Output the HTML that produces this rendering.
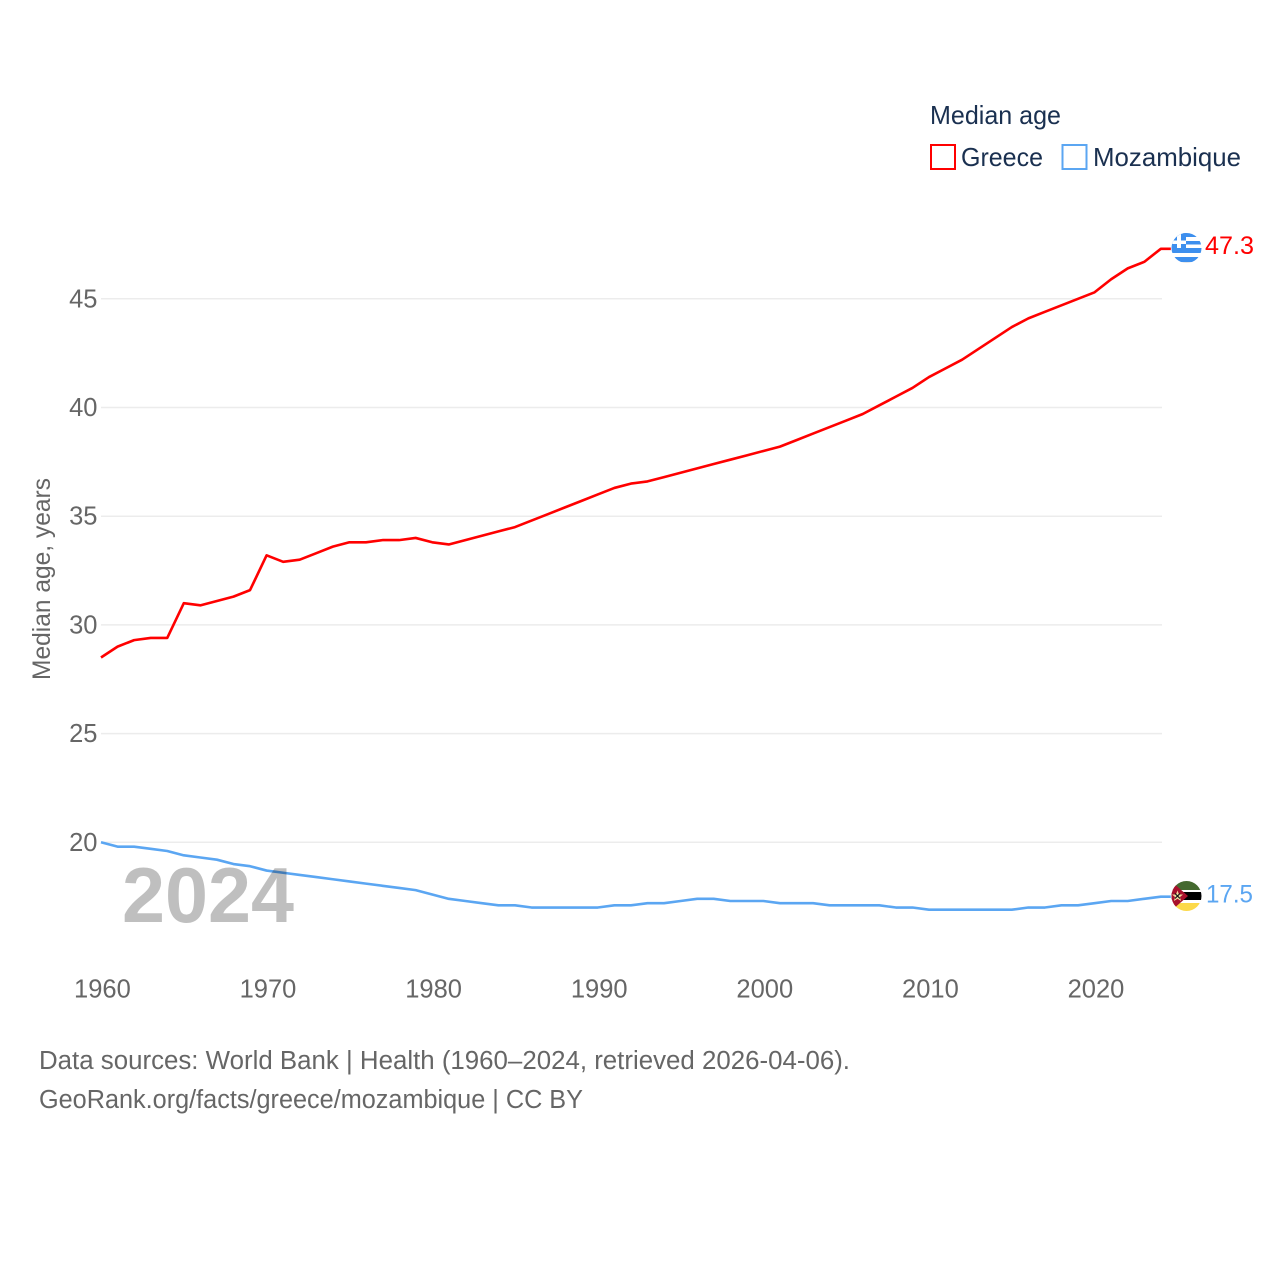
<!DOCTYPE html>
<html lang="en">
<head>
<meta charset="utf-8">
<title>Median age: Greece and Mozambique</title>
<style>
html,body{margin:0;padding:0;background:#fff;}
svg{display:block;font-family:"Liberation Sans",sans-serif;}
</style>
</head>
<body>
<svg id="chart" xmlns="http://www.w3.org/2000/svg" width="1280" height="1280" viewBox="0 0 1280 1280">
  <defs>
    <clipPath id="clip-greece"><circle cx="1186.5" cy="248" r="15"/></clipPath>
    <clipPath id="clip-moz"><circle cx="1186.5" cy="896" r="15"/></clipPath>
  </defs>
  <rect width="1280" height="1280" fill="#fff"/>
  <g id="grid"></g>
  <g id="yticks"></g>
  <g id="xticks"></g>
  <g id="series"></g>
  <text x="122" y="922" font-size="78" font-weight="700" fill="#000" fill-opacity="0.25" textLength="172" lengthAdjust="spacingAndGlyphs">2024</text>
  <text transform="translate(50 680) rotate(-90)" font-size="25" fill="#666" textLength="202" lengthAdjust="spacingAndGlyphs">Median age, years</text>

  <g fill="#1a3050" font-size="26">
    <text x="930" y="124" textLength="131" lengthAdjust="spacingAndGlyphs">Median age</text>
    <g>
      <rect x="931" y="145" width="24" height="24" fill="none" stroke="#ff0000" stroke-width="2"/>
      <text x="961" y="166" textLength="82" lengthAdjust="spacingAndGlyphs">Greece</text>
    </g>
    <g>
      <rect x="1062.5" y="145" width="24" height="24" fill="none" stroke="#5ba6f2" stroke-width="2"/>
      <text x="1093" y="166" textLength="148" lengthAdjust="spacingAndGlyphs">Mozambique</text>
    </g>
  </g>

  <g clip-path="url(#clip-greece)">
    <rect x="1170" y="232" width="33" height="32" fill="#fff"/>
    <rect x="1170" y="232" width="33" height="5" fill="#3d8fee"/>
    <rect x="1170" y="241" width="33" height="3.5" fill="#3d8fee"/>
    <rect x="1170" y="248" width="33" height="5" fill="#3d8fee"/>
    <rect x="1170" y="257" width="33" height="5" fill="#3d8fee"/>
    <rect x="1170" y="262" width="33" height="2" fill="#e4e4e4"/>
    <rect x="1170" y="232" width="16" height="16" fill="#3d8fee"/>
    <rect x="1177" y="232" width="4" height="16" fill="#fff"/>
    <rect x="1170" y="240.5" width="16" height="3.5" fill="#fff"/>
  </g>
  <g clip-path="url(#clip-moz)">
    <rect x="1170" y="880" width="33" height="10" fill="#44692f"/>
    <rect x="1170" y="890" width="33" height="2" fill="#fff"/>
    <rect x="1170" y="892" width="33" height="8" fill="#000"/>
    <rect x="1170" y="900" width="33" height="3" fill="#fff"/>
    <rect x="1170" y="903" width="33" height="9" fill="#fcd94a"/>
    <polygon points="1171,881 1188,896 1171,911" fill="#a8102c"/>
    <polygon points="1177.5,890.5 1179,894.5 1183,894.5 1180,897 1181,901 1177.5,898.8 1174,901 1175,897 1172,894.5 1176,894.5" fill="#f0dca0"/>
    <path d="M1175 893.5l5 5M1180 893.5l-5 5" stroke="#111" stroke-width="1.2"/>
  </g>

  <text x="1205" y="254" font-size="25" fill="#ff0000" textLength="49" lengthAdjust="spacingAndGlyphs">47.3</text>
  <text x="1206" y="902.5" font-size="25" fill="#5ba6f2" textLength="47" lengthAdjust="spacingAndGlyphs">17.5</text>

  <g font-size="25.5" fill="#666">
    <text x="39" y="1069" textLength="811" lengthAdjust="spacingAndGlyphs">Data sources: World Bank | Health (1960–2024, retrieved 2026-04-06).</text>
    <text x="39" y="1108" textLength="544" lengthAdjust="spacingAndGlyphs">GeoRank.org/facts/greece/mozambique | CC BY</text>
  </g>
</svg>
<script>
const startYear = 1960;
const yTickValues = [20, 25, 30, 35, 40, 45];
const xTickYears = [1960, 1970, 1980, 1990, 2000, 2010, 2020];
const greeceValues = [28.5,29.0,29.3,29.4,29.4,31.0,30.9,31.1,31.3,31.6,33.2,32.9,33.0,33.3,33.6,33.8,33.8,33.9,33.9,34.0,33.8,33.7,33.9,34.1,34.3,34.5,34.8,35.1,35.4,35.7,36.0,36.3,36.5,36.6,36.8,37.0,37.2,37.4,37.6,37.8,38.0,38.2,38.5,38.8,39.1,39.4,39.7,40.1,40.5,40.9,41.4,41.8,42.2,42.7,43.2,43.7,44.1,44.4,44.7,45.0,45.3,45.9,46.4,46.7,47.3];
const mozambiqueValues = [20.0,19.8,19.8,19.7,19.6,19.4,19.3,19.2,19.0,18.9,18.7,18.6,18.5,18.4,18.3,18.2,18.1,18.0,17.9,17.8,17.6,17.4,17.3,17.2,17.1,17.1,17.0,17.0,17.0,17.0,17.0,17.1,17.1,17.2,17.2,17.3,17.4,17.4,17.3,17.3,17.3,17.2,17.2,17.2,17.1,17.1,17.1,17.1,17.0,17.0,16.9,16.9,16.9,16.9,16.9,16.9,17.0,17.0,17.1,17.1,17.2,17.3,17.3,17.4,17.5];

const NS = 'http://www.w3.org/2000/svg';
function xScale(year) { return 101 + (year - 1960) * 16.56; }
function yScale(value) { return 842.3 - (value - 20) * 21.74; }

const gridGroup = document.getElementById('grid');
const yTickGroup = document.getElementById('yticks');
const xTickGroup = document.getElementById('xticks');
const seriesGroup = document.getElementById('series');

yTickValues.forEach(function (v) {
  const line = document.createElementNS(NS, 'line');
  
  
  line.setAttribute('x1', 101);
  line.setAttribute('x2', 1162);
  line.setAttribute('y1', yScale(v));
  line.setAttribute('y2', yScale(v));
  line.setAttribute('stroke', '#ececec');
  line.setAttribute('stroke-width', 1.5);
  gridGroup.appendChild(line);

  const label = document.createElementNS(NS, 'text');
  
  
  label.setAttribute('x', 97.5);
  label.setAttribute('y', yScale(v) + 8.5);
  label.setAttribute('text-anchor', 'end');
  label.setAttribute('font-size', 25.5);
  label.setAttribute('fill', '#666');
  label.textContent = String(v);
  yTickGroup.appendChild(label);
});

xTickYears.forEach(function (year) {
  const label = document.createElementNS(NS, 'text');
  
  
  label.setAttribute('x', xScale(year) + 1.4);
  label.setAttribute('y', 997.5);
  label.setAttribute('text-anchor', 'middle');
  label.setAttribute('font-size', 25.5);
  label.setAttribute('fill', '#666');
  label.textContent = String(year);
  xTickGroup.appendChild(label);
});

function linePoints(values) {
  const pts = values.map(function (v, i) {
    return xScale(startYear + i).toFixed(2) + ',' + yScale(v).toFixed(2);
  });
  const lastX = xScale(startYear + values.length - 1) + 10;
  pts.push(lastX.toFixed(2) + ',' + yScale(values[values.length - 1]).toFixed(2));
  return pts.join(' ');
}

const greeceLine = document.createElementNS(NS, 'polyline');


greeceLine.setAttribute('points', linePoints(greeceValues));
greeceLine.setAttribute('fill', 'none');
greeceLine.setAttribute('stroke', '#ff0000');
greeceLine.setAttribute('stroke-width', 2.6);
greeceLine.setAttribute('stroke-linejoin', 'round');
seriesGroup.appendChild(greeceLine);

const mozambiqueLine = document.createElementNS(NS, 'polyline');


mozambiqueLine.setAttribute('points', linePoints(mozambiqueValues));
mozambiqueLine.setAttribute('fill', 'none');
mozambiqueLine.setAttribute('stroke', '#5ba6f2');
mozambiqueLine.setAttribute('stroke-width', 2.6);
mozambiqueLine.setAttribute('stroke-linejoin', 'round');
seriesGroup.appendChild(mozambiqueLine);
</script>
</body>
</html>
